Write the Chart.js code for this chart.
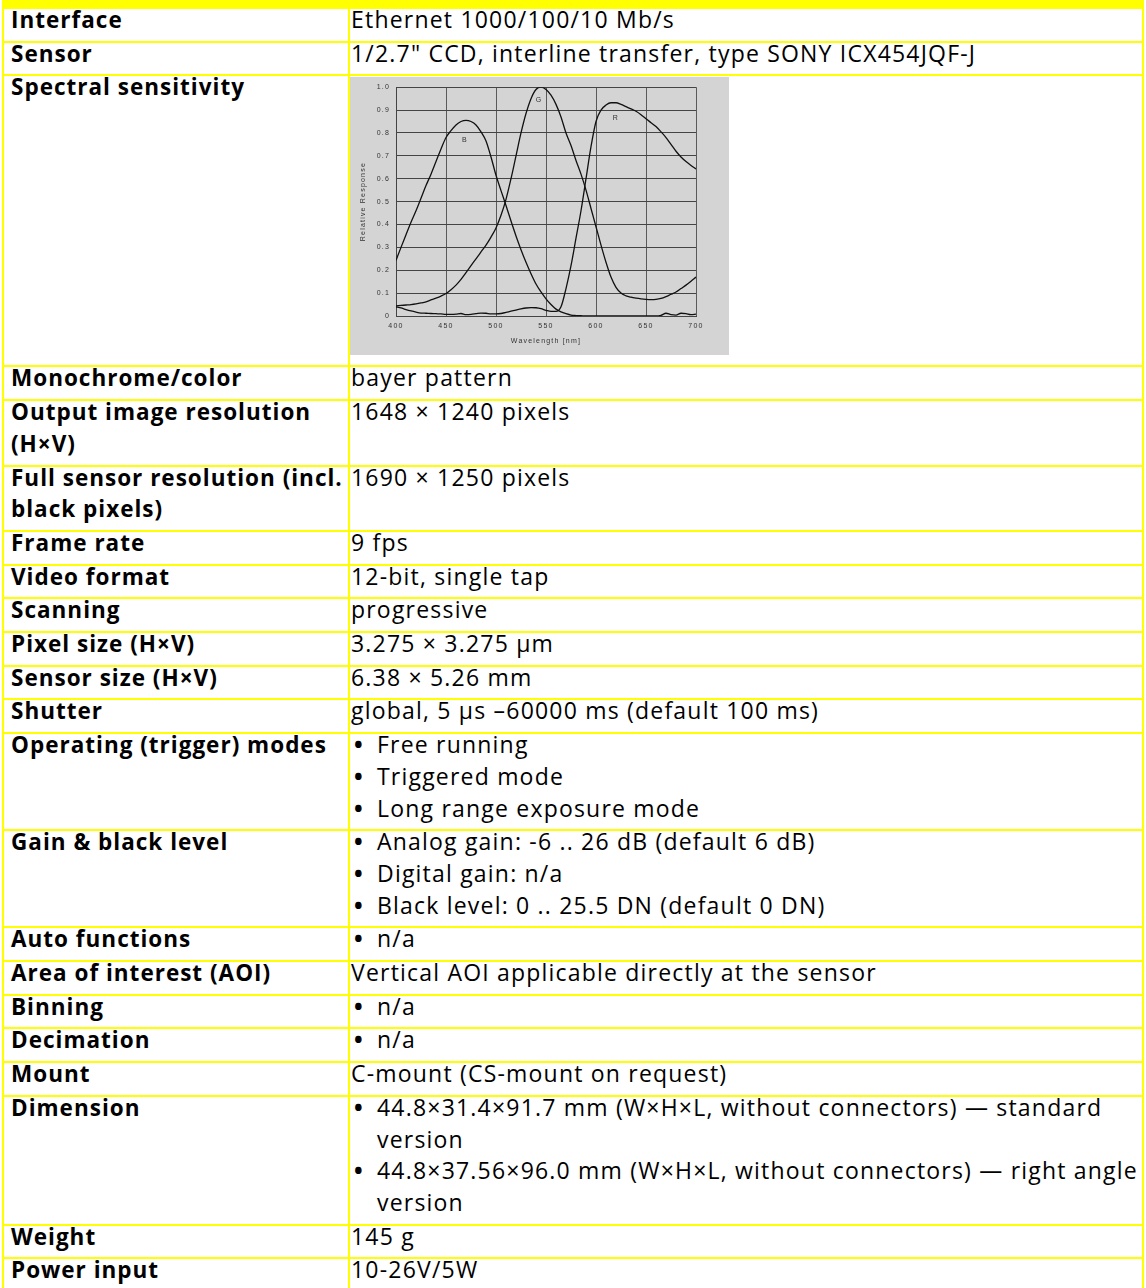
<!DOCTYPE html>
<html>
<head>
<meta charset="utf-8">
<script src="https://cdn.jsdelivr.net/npm/chart.js@4.4.1/dist/chart.umd.min.js"></script>
<style>
  body { margin: 0; background: #fff; font-family: "Open Sans", sans-serif; color: #000; }
  .band { margin-left: 2px; width: 1142px; height: 7px; background: #ffff00; }
  table { margin-left: 2px; width: 1142px; border-collapse: collapse; table-layout: fixed; }
  td { border: 2px solid #ffff00; padding: 0; vertical-align: top; font-size: 23px; line-height: 31.7px; letter-spacing: 1.2px; white-space: nowrap; }
  td.k { font-weight: bold; font-size: 22.5px; letter-spacing: 1px; padding-left: 7px; }
  td.v { padding-left: 1px; }
  .t { position: relative; top: -5px; }
  .li { padding-left: 26px; text-indent: -26px; }
  .li .b { display: inline-block; width: 23px; padding-left: 3px; text-indent: 0; font-weight: bold; }
  .chartbox { width: 379px; height: 278px; margin-top: 1px; background: #d4d4d4; }
</style>
</head>
<body>
<div class="band"></div>
<table>
  <colgroup><col style="width:346px"><col></colgroup>
  <tr><td class="k"><div class="t">Interface</div></td><td class="v"><div class="t">Ethernet 1000/100/10 Mb/s</div></td></tr>
  <tr><td class="k"><div class="t">Sensor</div></td><td class="v"><div class="t">1/2.7" CCD, interline transfer, type SONY ICX454JQF-J</div></td></tr>
  <tr style="height:291px"><td class="k"><div class="t">Spectral sensitivity</div></td><td class="v" style="padding-left:0"><div class="chartbox"><canvas id="chart" width="379" height="278"></canvas></div></td></tr>
  <tr><td class="k"><div class="t">Monochrome/color</div></td><td class="v"><div class="t">bayer pattern</div></td></tr>
  <tr><td class="k"><div class="t">Output image resolution<br>(H×V)</div></td><td class="v"><div class="t">1648 × 1240 pixels</div></td></tr>
  <tr><td class="k"><div class="t">Full sensor resolution (incl.<br>black pixels)</div></td><td class="v"><div class="t">1690 × 1250 pixels</div></td></tr>
  <tr><td class="k"><div class="t">Frame rate</div></td><td class="v"><div class="t">9 fps</div></td></tr>
  <tr><td class="k"><div class="t">Video format</div></td><td class="v"><div class="t">12-bit, single tap</div></td></tr>
  <tr><td class="k"><div class="t">Scanning</div></td><td class="v"><div class="t">progressive</div></td></tr>
  <tr><td class="k"><div class="t">Pixel size (H×V)</div></td><td class="v"><div class="t">3.275 × 3.275 μm</div></td></tr>
  <tr><td class="k"><div class="t">Sensor size (H×V)</div></td><td class="v"><div class="t">6.38 × 5.26 mm</div></td></tr>
  <tr><td class="k"><div class="t">Shutter</div></td><td class="v"><div class="t">global, 5 μs –60000 ms (default 100 ms)</div></td></tr>
  <tr><td class="k"><div class="t">Operating (trigger) modes</div></td><td class="v"><div class="t">
    <div class="li"><span class="b">•</span>Free running</div>
    <div class="li"><span class="b">•</span>Triggered mode</div>
    <div class="li"><span class="b">•</span>Long range exposure mode</div></div></td></tr>
  <tr><td class="k"><div class="t">Gain &amp; black level</div></td><td class="v"><div class="t">
    <div class="li"><span class="b">•</span>Analog gain: -6 .. 26 dB (default 6 dB)</div>
    <div class="li"><span class="b">•</span>Digital gain: n/a</div>
    <div class="li"><span class="b">•</span>Black level: 0 .. 25.5 DN (default 0 DN)</div></div></td></tr>
  <tr><td class="k"><div class="t">Auto functions</div></td><td class="v"><div class="t"><div class="li"><span class="b">•</span>n/a</div></div></td></tr>
  <tr><td class="k"><div class="t">Area of interest (AOI)</div></td><td class="v"><div class="t">Vertical AOI applicable directly at the sensor</div></td></tr>
  <tr><td class="k"><div class="t">Binning</div></td><td class="v"><div class="t"><div class="li"><span class="b">•</span>n/a</div></div></td></tr>
  <tr><td class="k"><div class="t">Decimation</div></td><td class="v"><div class="t"><div class="li"><span class="b">•</span>n/a</div></div></td></tr>
  <tr><td class="k"><div class="t">Mount</div></td><td class="v"><div class="t">C-mount (CS-mount on request)</div></td></tr>
  <tr><td class="k"><div class="t">Dimension</div></td><td class="v"><div class="t">
    <div class="li"><span class="b">•</span>44.8×31.4×91.7 mm (W×H×L, without connectors) — standard<br>version</div>
    <div class="li"><span class="b">•</span>44.8×37.56×96.0 mm (W×H×L, without connectors) — right angle<br>version</div></div></td></tr>
  <tr><td class="k"><div class="t">Weight</div></td><td class="v"><div class="t">145 g</div></td></tr>
  <tr><td class="k"><div class="t">Power input</div></td><td class="v"><div class="t">10-26V/5W</div></td></tr>
</table>

<script>
// wavelength in nm, relative response
const wavelengths = [400, 405, 410, 415, 420, 425, 430, 435, 440, 445,
  450, 455, 460, 465, 470, 475, 480, 485, 490, 495,
  500, 505, 510, 515, 520, 525, 530, 535, 540, 545,
  550, 555, 560, 565, 570, 575, 580, 585, 590, 595,
  600, 605, 610, 615, 620, 625, 630, 635, 640, 645,
  650, 655, 660, 665, 670, 675, 680, 685, 690, 695, 700];

const blueResponse = [0.243, 0.30, 0.355, 0.41, 0.46, 0.515, 0.57, 0.62, 0.675, 0.73,
  0.78, 0.81, 0.835, 0.85, 0.855, 0.85, 0.835, 0.805, 0.765, 0.695,
  0.615, 0.548, 0.483, 0.415, 0.35, 0.29, 0.235, 0.185, 0.14, 0.105,
  0.075, 0.05, 0.03, 0.018, 0.01, 0.004, 0.002, 0.001, 0, 0,
  0, 0, 0, 0, 0, 0, 0, 0, 0, 0,
  0, 0, 0, 0.003, 0.012, 0.006, 0.004, 0.012, 0.01, 0.006, 0.008];

const greenResponse = [0.044, 0.046, 0.048, 0.05, 0.053, 0.057, 0.062, 0.07, 0.078, 0.087,
  0.098, 0.115, 0.135, 0.16, 0.19, 0.22, 0.25, 0.28, 0.31, 0.345,
  0.385, 0.44, 0.51, 0.60, 0.70, 0.80, 0.885, 0.95, 0.99, 1.0,
  0.99, 0.965, 0.925, 0.87, 0.80, 0.745, 0.68, 0.62, 0.55, 0.47,
  0.39, 0.31, 0.235, 0.17, 0.125, 0.10, 0.088, 0.082, 0.078, 0.075,
  0.073, 0.072, 0.073, 0.077, 0.085, 0.095, 0.105, 0.12, 0.135, 0.152, 0.17];

const redResponse = [0.04, 0.035, 0.028, 0.022, 0.017, 0.013, 0.012, 0.011, 0.01, 0.009,
  0.007, 0.007, 0.008, 0.011, 0.006, 0.007, 0.01, 0.013, 0.012, 0.009,
  0.009, 0.011, 0.016, 0.021, 0.026, 0.031, 0.035, 0.037, 0.036, 0.032,
  0.025, 0.02, 0.02, 0.04, 0.12, 0.22, 0.34, 0.46, 0.6, 0.74,
  0.85, 0.9, 0.922, 0.932, 0.932, 0.925, 0.915, 0.905, 0.895, 0.88,
  0.862, 0.845, 0.828, 0.805, 0.78, 0.75, 0.72, 0.695, 0.675, 0.658, 0.643];

const xTicks = [400, 450, 500, 550, 600, 650, 700];
const xTickLabels = ['400', '450', '500', '550', '600', '650', '700'];
const yTicks = [0, 0.1, 0.2, 0.3, 0.4, 0.5, 0.6, 0.7, 0.8, 0.9, 1.0];
const yTickLabels = ['0', '0.1', '0.2', '0.3', '0.4', '0.5', '0.6', '0.7', '0.8', '0.9', '1.0'];

const curveNames = ['B', 'G', 'R'];
const curveNameWavelengths = [469, 543, 620];
const curveNameValues = [0.767, 0.942, 0.865];

const toPoints = values => values.map((v, i) => ({ x: wavelengths[i], y: v }));

const tickFont = { family: 'Liberation Sans', size: 7 };

// writes B / G / R next to the curves
const curveNamePlugin = {
  id: 'curveNames',
  afterDatasetsDraw(chart) {
    const { ctx, scales } = chart;
    ctx.save();
    ctx.font = '7px "Liberation Sans"';
    ctx.fillStyle = '#333';
    ctx.textAlign = 'center';
    ctx.textBaseline = 'middle';
    curveNames.forEach((name, i) => {
      ctx.fillText(name, scales.x.getPixelForValue(curveNameWavelengths[i]), scales.y.getPixelForValue(curveNameValues[i]));
    });
    ctx.restore();
  }
};

const ctx = document.getElementById('chart').getContext('2d');
new Chart(ctx, {
  type: 'line',
  data: {
    datasets: [
      { label: 'B', data: toPoints(blueResponse) },
      { label: 'G', data: toPoints(greenResponse) },
      { label: 'R', data: toPoints(redResponse) }
    ]
  },
  options: {
    responsive: false,
    animation: false,
    devicePixelRatio: 1,
    layout: { padding: { top: 10, right: 33, bottom: 0, left: 0 } },
    plugins: { legend: { display: false }, tooltip: { enabled: false } },
    elements: {
      point: { radius: 0 },
      line: { borderWidth: 1.3, borderColor: '#111', fill: false, cubicInterpolationMode: 'monotone' }
    },
    scales: {
      x: {
        type: 'linear',
        min: 400,
        max: 700,
        afterBuildTicks: axis => { axis.ticks = xTicks.map(v => ({ value: v })); },
        afterFit: axis => { axis.height = 39; },
        grid: { color: '#5a5a5a', lineWidth: 1, drawTicks: false },
        border: { color: '#444' },
        ticks: { padding: 6, font: tickFont, color: '#333', maxRotation: 0, callback: (v, i) => xTickLabels[i] },
        title: { display: true, text: 'Wavelength [nm]', font: tickFont, color: '#333', padding: { top: 0, bottom: 10 } }
      },
      y: {
        min: 0,
        max: 1,
        afterBuildTicks: axis => { axis.ticks = yTicks.map(v => ({ value: v })); },
        afterFit: axis => { axis.width = 46; },
        grid: { color: '#444', lineWidth: 1, drawTicks: false },
        border: { color: '#444' },
        ticks: { padding: 6, font: tickFont, color: '#333', callback: (v, i) => yTickLabels[i] },
        title: { display: true, text: 'Relative Response', font: tickFont, color: '#333', padding: { top: 9, bottom: 0 } }
      }
    }
  },
  plugins: [curveNamePlugin]
});
</script>
</body>
</html>
